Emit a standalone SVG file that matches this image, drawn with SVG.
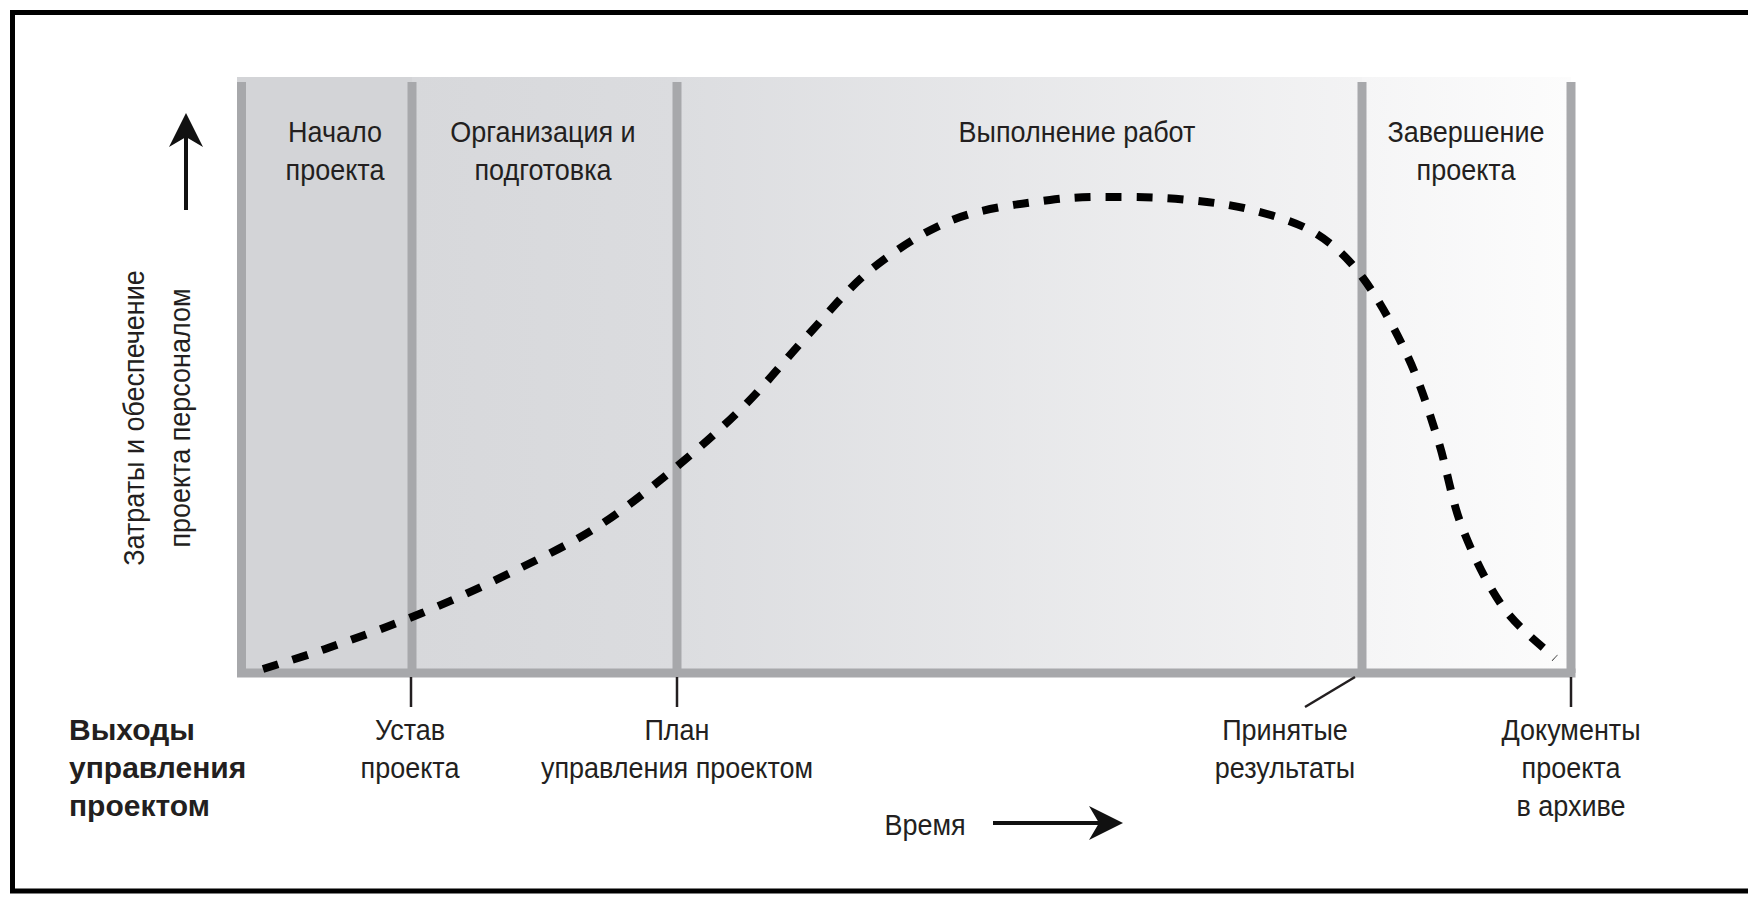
<svg xmlns="http://www.w3.org/2000/svg" width="1748" height="899" viewBox="0 0 1748 899">
  <defs>
    <style>
      .lbl { font-family: "Liberation Sans", Arial, sans-serif; font-size: 30px; fill: #231f20; text-anchor: middle; }
      .bold { font-family: "Liberation Sans", Arial, sans-serif; font-size: 30px; font-weight: bold; fill: #231f20; text-anchor: start; }
      .bar { stroke: #a7a8ab; stroke-width: 9; fill: none; }
      .tick { stroke: #231f20; stroke-width: 2.5; fill: none; }
      .arrow { stroke: #111; stroke-width: 4; fill: none; marker-end: url(#ah); }
      .curve { stroke: #000; stroke-width: 8; fill: none; stroke-dasharray: 16 15; }
      .frame { stroke: #000; stroke-width: 5; fill: none; }
    </style>
    <linearGradient id="g2" x1="0" y1="0" x2="1" y2="0">
      <stop offset="0" stop-color="#d7d8db"/>
      <stop offset="1" stop-color="#dbdcdf"/>
    </linearGradient>
    <linearGradient id="g3" x1="0" y1="0" x2="1" y2="0">
      <stop offset="0" stop-color="#dcdde0"/>
      <stop offset="1" stop-color="#f3f3f4"/>
    </linearGradient>
    <linearGradient id="g4" x1="0" y1="0" x2="1" y2="0">
      <stop offset="0" stop-color="#f5f5f6"/>
      <stop offset="1" stop-color="#fcfcfc"/>
    </linearGradient>
    <marker id="ah" viewBox="0 0 34 34" refX="10" refY="17" markerWidth="34" markerHeight="34" orient="auto" markerUnits="userSpaceOnUse">
      <path d="M0,0 L34,17 L0,34 L10,17 Z" fill="#111"/>
    </marker>
  </defs>

  <rect x="0" y="0" width="1748" height="899" fill="#ffffff"/>

  <g id="frame">
    <path class="frame" d="M1752,12.5 L12.5,12.5 L12.5,891 L1752,891"/>
  </g>

  <g id="phase-initiation">
    <rect x="237" y="77" width="175" height="596" fill="#d3d4d7"/>
    <text class="lbl" transform="translate(335 0) scale(0.9 1)"><tspan x="0" y="142">Начало</tspan><tspan x="0" y="180">проекта</tspan></text>
  </g>

  <g id="phase-organization">
    <rect x="412" y="77" width="265" height="596" fill="url(#g2)"/>
    <text class="lbl" transform="translate(543 0) scale(0.9 1)"><tspan x="0" y="142">Организация и</tspan><tspan x="0" y="180">подготовка</tspan></text>
  </g>

  <g id="phase-execution">
    <rect x="677" y="77" width="685" height="596" fill="url(#g3)"/>
    <text class="lbl" transform="translate(1077 0) scale(0.9 1)"><tspan x="0" y="142">Выполнение работ</tspan></text>
  </g>

  <g id="phase-closing">
    <rect x="1362" y="77" width="209" height="596" fill="url(#g4)"/>
    <text class="lbl" transform="translate(1466 0) scale(0.9 1)"><tspan x="0" y="142">Завершение</tspan><tspan x="0" y="180">проекта</tspan></text>
  </g>

  <g id="chart-bars">
    <line class="bar" x1="241.5" y1="82" x2="241.5" y2="673"/>
    <line class="bar" x1="412" y1="82" x2="412" y2="673"/>
    <line class="bar" x1="677" y1="82" x2="677" y2="673"/>
    <line class="bar" x1="1362" y1="82" x2="1362" y2="673"/>
    <line class="bar" x1="1571" y1="82" x2="1571" y2="673"/>
    <line class="bar" x1="237" y1="673" x2="1575.5" y2="673"/>
  </g>

  <g id="effort-curve">
    <path class="curve" d="M263,669 C273.8,665.5 301.5,657.3 328,648 C354.5,638.7 391.7,625.5 422,613 C452.3,600.5 480.8,587.3 510,573 C539.2,558.7 569.5,544.5 597,527 C624.5,509.5 650.3,488.3 675,468 C699.7,447.7 722.8,427.2 745,405 C767.2,382.8 786.7,357.8 808,335 C829.3,312.2 848.5,287.3 873,268 C897.5,248.7 925.5,230.3 955,219 C984.5,207.7 1022,203.7 1050,200 C1078,196.3 1099.8,197 1123,197 C1146.2,197 1167.5,197.8 1189,200 C1210.5,202.2 1231,204.5 1252,210 C1273,215.5 1296.5,221.7 1315,233 C1333.5,244.3 1347.5,257.3 1363,278 C1378.5,298.7 1395.5,330 1408,357 C1420.5,384 1429,411.7 1438,440 C1447,468.3 1451.2,499.2 1462,527 C1472.8,554.8 1487.5,585.2 1503,607 C1518.5,628.8 1546.3,649.5 1555,658"/>
  </g>

  <g id="connectors">
    <line class="tick" x1="411" y1="677" x2="411" y2="707"/>
    <line class="tick" x1="677" y1="677" x2="677" y2="707"/>
    <line class="tick" x1="1355" y1="677" x2="1305" y2="707"/>
    <line class="tick" x1="1571" y1="677" x2="1571" y2="707"/>
    <line class="arrow" x1="186" y1="210" x2="186" y2="137"/>
    <line class="arrow" x1="993" y1="823" x2="1099" y2="823"/>
  </g>

  <g id="y-axis-label">
    <text class="lbl" transform="translate(144 418) rotate(-90) scale(0.9 1)" x="0" y="0">Затраты и обеспечение</text>
    <text class="lbl" transform="translate(190 418) rotate(-90) scale(0.9 1)" x="0" y="0">проекта персоналом</text>
  </g>

  <g id="outputs-title">
    <text class="bold"><tspan x="69" y="740">Выходы</tspan><tspan x="69" y="778">управления</tspan><tspan x="69" y="816">проектом</tspan></text>
  </g>

  <g id="output-charter">
    <text class="lbl" transform="translate(410 0) scale(0.9 1)"><tspan x="0" y="740">Устав</tspan><tspan x="0" y="778">проекта</tspan></text>
  </g>

  <g id="output-plan">
    <text class="lbl" transform="translate(677 0) scale(0.9 1)"><tspan x="0" y="740">План</tspan><tspan x="0" y="778">управления проектом</tspan></text>
  </g>

  <g id="output-accepted">
    <text class="lbl" transform="translate(1285 0) scale(0.9 1)"><tspan x="0" y="740">Принятые</tspan><tspan x="0" y="778">результаты</tspan></text>
  </g>

  <g id="output-archive">
    <text class="lbl" transform="translate(1571 0) scale(0.9 1)"><tspan x="0" y="740">Документы</tspan><tspan x="0" y="778">проекта</tspan><tspan x="0" y="816">в архиве</tspan></text>
  </g>

  <g id="time-label">
    <text class="lbl" transform="translate(925 0) scale(0.9 1)" x="0" y="835">Время</text>
  </g>
</svg>
